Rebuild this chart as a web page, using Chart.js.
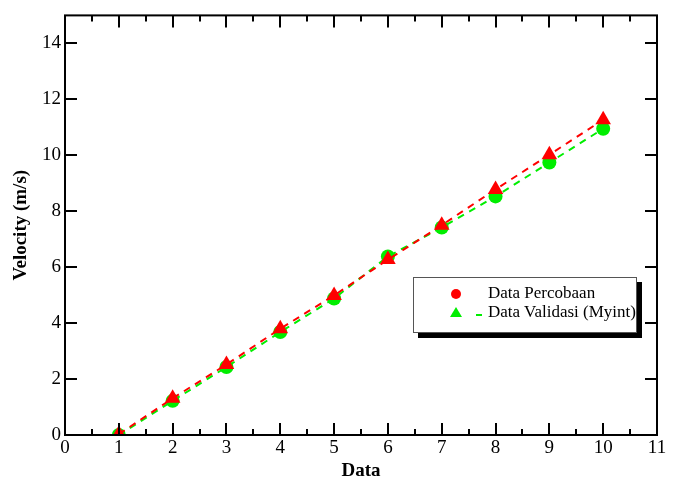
<!DOCTYPE html>
<html>
<head>
<meta charset="utf-8">
<script src="https://cdn.jsdelivr.net/npm/chart.js@4/dist/chart.umd.min.js"></script>
<style>
html,body{margin:0;padding:0;background:#fff;}
#wrap{position:relative;width:673px;height:482px;}
canvas{position:absolute;left:0;top:0;}
#legend{position:absolute;left:413px;top:277px;width:222px;height:54px;border:1px solid #555;background:#fff;box-shadow:5px 5px 0 #000;font-family:"Liberation Serif",serif;font-size:17px;color:#000;}
#legend .row{position:absolute;left:0;height:18px;width:300px;white-space:nowrap;}
#legend .txt{position:absolute;left:74px;top:-1px;line-height:18px;z-index:2;}
#legend .dot{position:absolute;left:37px;top:4px;width:10px;height:10px;border-radius:50%;background:#ff0000;}
#legend .tri{position:absolute;left:36px;top:3px;width:0;height:0;border-left:6px solid transparent;border-right:6px solid transparent;border-bottom:10px solid #00ee00;}
#legend .dash{position:absolute;left:62px;top:10px;width:6px;height:2px;background:#00ee00;}
</style>
</head>
<body>
<div id="wrap">
<canvas id="c" width="673" height="482"></canvas>
<div id="legend">
  <div class="row" style="top:7px;"><div class="dot"></div><div class="txt">Data Percobaan</div></div>
  <div class="row" style="top:26px;"><div class="tri"></div><div class="dash"></div><div class="txt">Data Validasi (Myint)</div></div>
</div>
</div>
<script>
const categories = [1, 2, 3, 4, 5, 6, 7, 8, 9, 10];
const percobaan = [0.0, 1.22, 2.43, 3.68, 4.88, 6.38, 7.42, 8.53, 9.74, 10.95];
const validasi = [0.03, 1.31, 2.52, 3.80, 4.99, 6.27, 7.50, 8.78, 10.02, 11.27];
const xTicks = [0, 1, 2, 3, 4, 5, 6, 7, 8, 9, 10, 11];
const yTicks = [0, 2, 4, 6, 8, 10, 12, 14];
const xMinorTicks = [0.5, 1.5, 2.5, 3.5, 4.5, 5.5, 6.5, 7.5, 8.5, 9.5, 10.5];

const pts = arr => categories.map((x, i) => ({x: x, y: arr[i]}));

const frame = {
  id: 'frame',
  afterDraw(chart) {
    const ctx = chart.ctx, a = chart.chartArea;
    const xs = chart.scales.x, ys = chart.scales.y;
    ctx.save();
    ctx.strokeStyle = '#000';
    ctx.lineWidth = 2;
    ctx.strokeRect(a.left, a.top, a.right - a.left, a.bottom - a.top);
    ctx.beginPath();
    xTicks.forEach(v => {
      const p = Math.round(xs.getPixelForValue(v));
      ctx.moveTo(p, a.bottom); ctx.lineTo(p, a.bottom - 12);
      ctx.moveTo(p, a.top); ctx.lineTo(p, a.top + 12);
    });
    xMinorTicks.forEach(v => {
      const p = Math.round(xs.getPixelForValue(v));
      ctx.moveTo(p, a.bottom); ctx.lineTo(p, a.bottom - 6);
      ctx.moveTo(p, a.top); ctx.lineTo(p, a.top + 6);
    });
    yTicks.forEach(v => {
      const p = Math.round(ys.getPixelForValue(v));
      ctx.moveTo(a.left, p); ctx.lineTo(a.left + 12, p);
      ctx.moveTo(a.right, p); ctx.lineTo(a.right - 12, p);
    });
    ctx.stroke();
    ctx.restore();
  }
};

new Chart(document.getElementById('c'), {
  type: 'scatter',
  data: {
    datasets: [
      {
        label: 'Data Validasi (Myint)',
        data: pts(validasi),
        showLine: true,
        borderColor: '#ff0000',
        borderWidth: 2,
        borderDash: [7, 6],
        pointStyle: 'triangle',
        pointRadius: 9,
        pointBackgroundColor: '#ff0000',
        pointBorderColor: '#ff0000',
        pointBorderWidth: 0,
        order: 1
      },
      {
        label: 'Data Percobaan',
        data: pts(percobaan),
        showLine: true,
        borderColor: '#00ee00',
        borderWidth: 2,
        borderDash: [7, 6],
        pointStyle: 'circle',
        pointRadius: 7,
        pointBackgroundColor: '#00ee00',
        pointBorderColor: '#00ee00',
        pointBorderWidth: 0,
        order: 2
      }
    ]
  },
  options: {
    responsive: false,
    animation: false,
    layout: {padding: {top: 14, right: 16, left: 10, bottom: 0}},
    plugins: {legend: {display: false}, tooltip: {enabled: false}},
    scales: {
      x: {
        type: 'linear', min: 0, max: 11,
        afterBuildTicks: s => { s.ticks = xTicks.map(v => ({value: v})); },
        afterFit: s => { s.height = 47; },
        grid: {display: false, drawTicks: false},
        border: {display: false},
        ticks: {color: '#000', font: {family: 'Liberation Serif', size: 19}, padding: 2, maxRotation: 0},
        title: {display: true, text: 'Data', color: '#000', font: {family: 'Liberation Serif', size: 19, weight: 'bold'}, padding: {top: 1, bottom: 0}}
      },
      y: {
        type: 'linear', min: 0, max: 15,
        afterBuildTicks: s => { s.ticks = yTicks.map(v => ({value: v})); },
        afterFit: s => { s.width = 55; },
        grid: {display: false, drawTicks: false},
        border: {display: false},
        ticks: {color: '#000', font: {family: 'Liberation Serif', size: 19}, padding: 4},
        title: {display: true, text: 'Velocity (m/s)', color: '#000', font: {family: 'Liberation Serif', size: 19, weight: 'bold'}, padding: {top: 0, bottom: 4}}
      }
    }
  },
  plugins: [frame]
});
</script>
</body>
</html>
